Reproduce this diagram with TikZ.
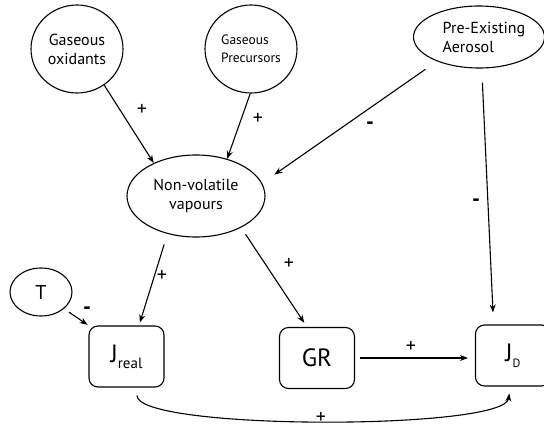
\documentclass[tikz,border=0pt]{standalone}
\usepackage{fontspec}
\setmainfont{PT Sans}
\usetikzlibrary{shapes.geometric,arrows.meta}
\begin{document}
\begin{tikzpicture}[x=1pt,y=-1pt]
    \useasboundingbox (0,0) rectangle (544,428);

    \tikzset{ellstyle/.style={draw,shape=ellipse,inner sep=0pt,align=center,line width=1.1pt,font=\fontsize{16}{19}\selectfont}}
    \tikzset{boxstyle/.style={draw,rounded corners=9pt,minimum width=75pt,minimum height=61pt,inner sep=0pt,line width=1.1pt,font=\fontsize{25}{26}\selectfont}}
    \tikzset{sgn/.style={font=\fontsize{20}{20}\selectfont}}
    \tikzset{neg/.style={font=\fontsize{22}{22}\bfseries}}

    \node[ellstyle,minimum width=92pt,minimum height=88pt] (ox) at ( 77, 49) {Gaseous\\oxidants};
    \node[ellstyle,minimum width=92pt,minimum height=88pt,align=left,font=\fontsize{13.5}{18}\selectfont] (pre) at ( 251, 49) {Gaseous\\Precursors};
    \node[ellstyle,minimum width=131pt,minimum height=62pt] (aer) at ( 479, 37) {};
    \node[align=left,font=\fontsize{16}{19}\selectfont] (aertxt) at ( 484, 37) {Pre-Existing\\Aerosol};
    \node[ellstyle,minimum width=138pt,minimum height=82pt] (nv) at ( 196, 196) {Non-volatile\\vapours};
    \node[ellstyle,minimum width=62pt,minimum height=48pt,font=\fontsize{20}{20}\selectfont] (T) at ( 41, 292) {T};

    \node[boxstyle] (jr) at ( 126.5, 356.5) {J\raisebox{-6pt}{\fontsize{15}{15}\selectfont real}};
    \node[boxstyle] (gr) at ( 317, 358) {GR};
    \node[boxstyle] (jd) at ( 513, 355.5) {J\raisebox{-6pt}{\fontsize{12}{12}\selectfont D}};

    \begin{scope}[every path/.style={-{Stealth[length=8pt,width=6pt]},line width=1.1pt}]
        \draw (ox.-53) -- (nv.142);
        \draw (pre.-91) -- (nv.50);
        \draw[shorten <=14pt,shorten >=15pt] (aer.-150) -- (nv.11);
        \draw[shorten <=14pt] (aer.-85) -- ([xshift=-20pt,yshift=12pt]jd.north);
        \draw[shorten <=11pt,shorten >=3pt] (nv.-127) -- ([xshift=12.5pt]jr.north);
        \draw[shorten <=8pt,shorten >=5pt] (nv.-35) -- ([xshift=-10pt]gr.north);
        \draw[shorten <=6pt,shorten >=1pt] (T.-36) -- (jr.north west);
        \draw[shorten <=5pt,shorten >=7pt] (gr.east) -- (gr.east -| jd.west);
        \draw[shorten <=8pt,shorten >=7pt] ([xshift=10.5pt]jr.south) .. controls +(0,43) and +(-5,44) .. ([xshift=-3pt]jd.south);
    \end{scope}

    \node[sgn] (s1) at ( 142, 110) {+};
    \node[sgn] (s2) at ( 258, 119) {+};
    \node[neg] (s3) at ( 370, 126) {-};
    \node[neg] (s4) at ( 476, 203) {-};
    \node[sgn] (s5) at ( 162, 276) {+};
    \node[sgn] (s6) at ( 289, 264) {+};
    \node[neg] (s7) at ( 87, 311) {-};
    \node[sgn] (s8) at ( 411, 347) {+};
    \node[sgn] (s9) at ( 321, 418) {+};
\end{tikzpicture}
\end{document}
